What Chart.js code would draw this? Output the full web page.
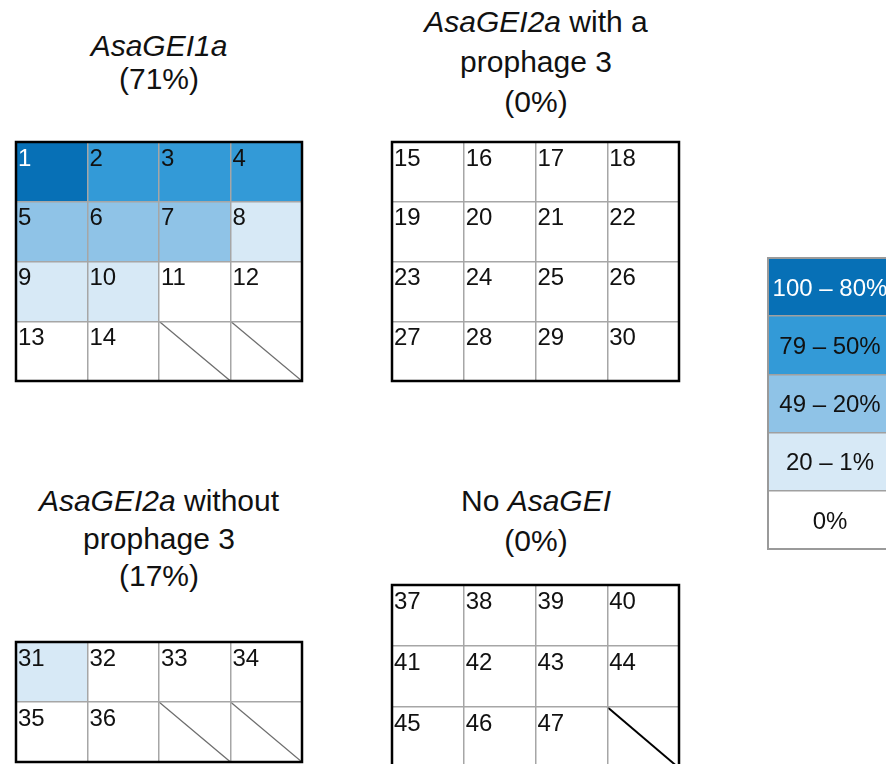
<html>
<head>
<style>
  body { margin: 0; width: 886px; height: 764px; overflow: hidden; background: #fff; position: relative;
         font-family: "Liberation Sans", Arial, sans-serif; }
  .box { position: absolute; }
  .title { position: absolute; width: 400px; text-align: center; font-size: 30px; color: #111; }
</style>
</head>
<body>

<div class="title" style="left:-41px; top:29px; line-height:33px;"><i>AsaGEI1a</i><br>(71%)</div>
<div class="title" style="left:336px; top:2px; line-height:40px;"><i>AsaGEI2a</i> with a<br>prophage 3<br>(0%)</div>
<div class="title" style="left:-41px; top:482px; line-height:37.5px;"><i>AsaGEI2a</i> without<br>prophage 3<br>(17%)</div>
<div class="title" style="left:336px; top:481px; line-height:40px;">No <i>AsaGEI</i><br>(0%)</div>

<div class="box" style="left:13px; top:139px; width:292px; height:245px;"><canvas id="panel1"></canvas></div>
<div class="box" style="left:389px; top:139px; width:293px; height:245px;"><canvas id="panel2"></canvas></div>
<div class="box" style="left:13px; top:639px; width:292px; height:126px;"><canvas id="panel3"></canvas></div>
<div class="box" style="left:389px; top:582px; width:293px; height:189px;"><canvas id="panel4"></canvas></div>
<div class="box" style="left:765px; top:255px; width:130px; height:297px;"><canvas id="legendChart"></canvas></div>

<script src="https://cdn.jsdelivr.net/npm/chart.js"></script>

<script>

// colour per level: 0 = 0%, 1 = 20–1%, 2 = 49–20%, 3 = 79–50%, 4 = 100–80%
const levelColors = ['#FFFFFF', '#D7E9F6', '#8FC3E7', '#339AD7', '#0770B6'];
const legendLabels = ['100 – 80%', '79 – 50%', '49 – 20%', '20 – 1%', '0%'];
const legendLevels = [4, 3, 2, 1, 0];

// strain numbers and their level, row by row (4 per row)
const panel1Ids = [1, 2, 3, 4, 5, 6, 7, 8, 9, 10, 11, 12, 13, 14];
const panel1Levels = [4, 3, 3, 3, 2, 2, 2, 1, 1, 1, 0, 0, 0, 0];
const panel2Ids = [15, 16, 17, 18, 19, 20, 21, 22, 23, 24, 25, 26, 27, 28, 29, 30];
const panel2Levels = [0, 0, 0, 0, 0, 0, 0, 0, 0, 0, 0, 0, 0, 0, 0, 0];
const panel3Ids = [31, 32, 33, 34, 35, 36];
const panel3Levels = [1, 0, 0, 0, 0, 0];
const panel4Ids = [37, 38, 39, 40, 41, 42, 43, 44, 45, 46, 47];
const panel4Levels = [0, 0, 0, 0, 0, 0, 0, 0, 0, 0, 0];

const FONT = '"Liberation Sans", Arial, sans-serif';

function makeGrid(id, labels, levels, cols, rows, opts) {
  const cells = labels.map((lab, i) => ({ label: lab, level: levels[i], col: i % cols, row: Math.floor(i / cols) }));
  const empties = [];
  for (let i = labels.length; i < cols * rows; i++) {
    empties.push({ col: i % cols, row: Math.floor(i / cols) });
  }

  const axis = (max, reverse) => ({
    type: 'linear', min: 0, max: max, reverse: reverse, offset: false,
    ticks: { display: false, stepSize: 1 },
    grid: { color: opts.gridColor, lineWidth: 1.5, drawTicks: false, offset: false, z: 1 },
    border: { display: false }
  });

  // numbers inside the cells + the outer frame
  const cellText = {
    id: 'cellText',
    afterDraw(chart) {
      const { ctx, chartArea, scales: { x, y } } = chart;
      ctx.save();
      ctx.font = opts.fontSize + 'px ' + FONT;
      cells.forEach(c => {
        ctx.fillStyle = c.level === 4 ? '#ffffff' : '#111111';
        const top = y.getPixelForValue(c.row);
        const bottom = y.getPixelForValue(c.row + 1);
        if (opts.center) {
          ctx.textAlign = 'center';
          ctx.fillText(c.label, x.getPixelForValue(c.col + 0.5), (top + bottom) / 2 + opts.fontSize * 0.36);
        } else {
          ctx.textAlign = 'left';
          ctx.fillText(c.label, x.getPixelForValue(c.col) + 2, top + 23.5);
        }
      });
      ctx.strokeStyle = opts.frameColor;
      ctx.lineWidth = opts.frameWidth;
      ctx.strokeRect(chartArea.left, chartArea.top, chartArea.right - chartArea.left, chartArea.bottom - chartArea.top);
      ctx.restore();
    }
  };

  new Chart(document.getElementById(id), {
    type: 'bar',
    data: {
      datasets: [
        {
          type: 'bar',
          data: cells.map(c => ({ x: c.col + 0.5, y: [c.row, c.row + 1] })),
          backgroundColor: cells.map(c => levelColors[c.level]),
          borderWidth: 0,
          barPercentage: 1,
          categoryPercentage: 1,
          order: 2
        },
        ...empties.map(e => ({
          type: 'line',
          data: [{ x: e.col, y: e.row }, { x: e.col + 1, y: e.row + 1 }],
          borderColor: opts.diagColor,
          borderWidth: opts.diagWidth,
          pointRadius: 0,
          order: 1
        }))
      ]
    },
    options: {
      responsive: true,
      maintainAspectRatio: false,
      animation: false,
      events: [],
      layout: { padding: 3 },
      plugins: { legend: { display: false }, tooltip: { enabled: false } },
      scales: { x: axis(cols, false), y: axis(rows, true) }
    },
    plugins: [cellText]
  });
}

const panelStyle = { gridColor: '#A6A6A6', frameColor: '#000000', frameWidth: 2.5, fontSize: 24, diagColor: '#6E6E6E', diagWidth: 1.3 };

makeGrid('panel1', panel1Ids, panel1Levels, 4, 4, panelStyle);
makeGrid('panel2', panel2Ids, panel2Levels, 4, 4, panelStyle);
makeGrid('panel3', panel3Ids, panel3Levels, 4, 2, panelStyle);
makeGrid('panel4', panel4Ids, panel4Levels, 4, 3, Object.assign({}, panelStyle, { diagColor: '#000000', diagWidth: 2 }));
makeGrid('legendChart', legendLabels, legendLevels, 1, 5,
  { gridColor: '#A0A0A0', frameColor: '#9A9A9A', frameWidth: 2, fontSize: 24, center: true });

</script>

</body>
</html>
